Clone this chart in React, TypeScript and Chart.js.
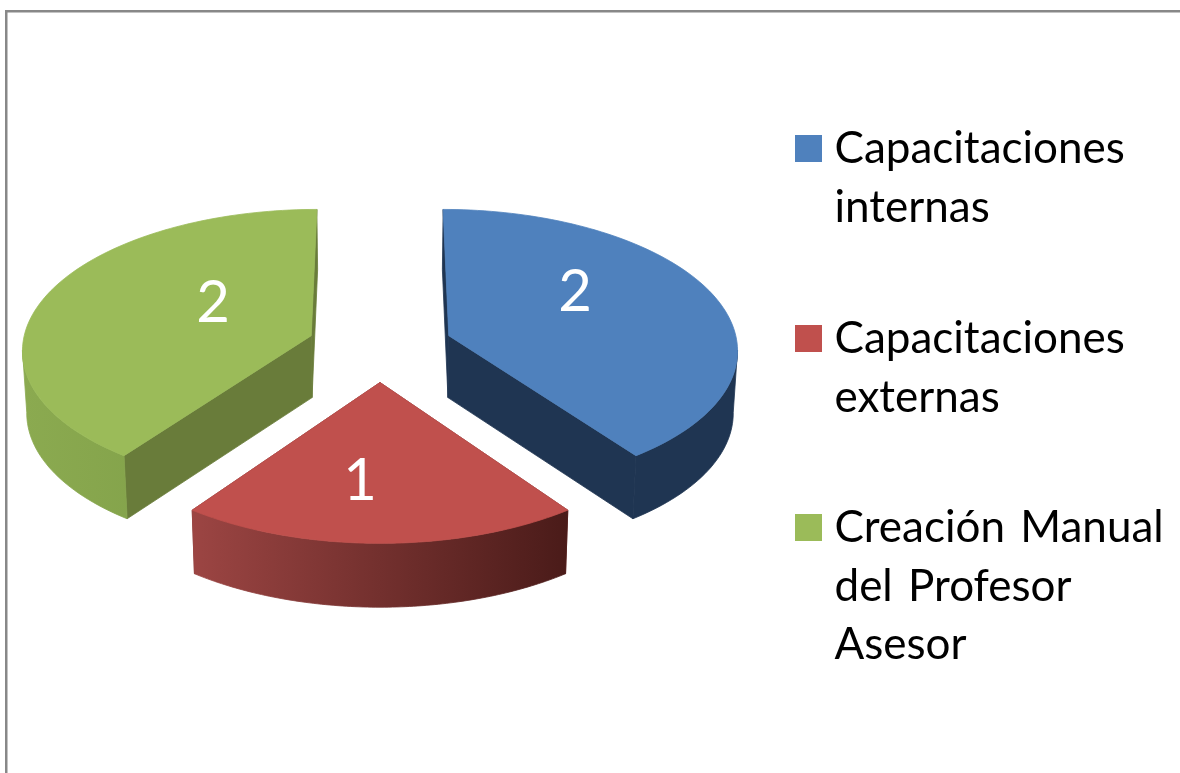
import React, { useEffect, useRef } from "react";
import { Chart, registerables } from "chart.js";

Chart.register(...registerables);

const categories = [
  ["Capacitaciones", "internas"],
  ["Capacitaciones", "externas"],
  ["Creación Manual", "del Profesor", "Asesor"],
];
const values = [2, 1, 2];
const topColors = ["#4F81BD", "#C0504D", "#9BBB59"];
const innerWallColors = ["#1F3552", "#7D3331", "#697C3A"];
const outerWallStops = [
  ["#1F3552", "#1F3552"],
  ["#9C4543", "#4A1B19"],
  ["#8BAA50", "#7A9A44"],
];

// Camera model of the tilted, exploded pie
const CX = 380, CY = 346.5, A = 289, B = 139.5, K = 0.09, EXPLODE = 0.252;

function project(a: number, r: number, mid: number, z: number) {
  const u = r * Math.cos(a) + EXPLODE * Math.cos(mid);
  const v = r * Math.sin(a) + EXPLODE * Math.sin(mid);
  const s = 1 / (1 - K * v);
  return {
    x: CX + A * u * s * (1 - 0.012 * z),
    y: CY + B * v * s + z * (62 + 1.5 * v),
  };
}

const FONT = "Lato";
const LEGEND_SIZE = 44;
const LABEL_SIZE = 58;
const legendY = [135, 325, 514];
const TEXT_X = 834.5;
const TEXT_DY = 28;
const LINE = 58.5;
const labelAt = [
  { x: 575, y: 292 },
  { x: 360, y: 481 },
  { x: 213, y: 303 },
];

const pie3d = {
  id: "pie3d",
  beforeDraw(chart: any) {
    const ctx = chart.ctx;
    ctx.save();
    ctx.fillStyle = "#ffffff";
    ctx.fillRect(0, 0, chart.width, chart.height);
    ctx.strokeStyle = "#888888";
    ctx.lineWidth = 2.5;
    ctx.beginPath();
    ctx.moveTo(6.25, chart.height);
    ctx.lineTo(6.25, 11.25);
    ctx.lineTo(chart.width, 11.25);
    ctx.stroke();
    ctx.restore();
  },
  beforeDatasetDraw(chart: any, args: any) {
    const ctx = chart.ctx;
    const arcs = chart.getDatasetMeta(args.index).data;
    ctx.save();
    ctx.lineWidth = 0.8;
    ctx.lineJoin = "round";
    arcs.forEach((el: any, i: number) => {
      const { startAngle: a0, endAngle: a1 } = el.getProps(["startAngle", "endAngle"], true);
      const mid = (a0 + a1) / 2;
      const N = 96;
      const rim = (z: number) => {
        const pts = [];
        for (let k = 0; k <= N; k++) pts.push(project(a0 + ((a1 - a0) * k) / N, 1, mid, z));
        return pts;
      };
      const top = rim(0);
      const bot = rim(1);
      const apexT = project(0, 0, mid, 0);
      const apexB = project(0, 0, mid, 1);
      const poly = (pts: { x: number; y: number }[], fill: any) => {
        ctx.beginPath();
        pts.forEach((p, k) => (k ? ctx.lineTo(p.x, p.y) : ctx.moveTo(p.x, p.y)));
        ctx.closePath();
        ctx.fillStyle = fill;
        ctx.strokeStyle = fill;
        ctx.fill();
        ctx.stroke();
      };
      // inner (radial) walls
      poly([apexT, top[0], bot[0], apexB], innerWallColors[i]);
      poly([apexT, top[N], bot[N], apexB], innerWallColors[i]);
      // outer wall: only the front-facing stretch of the rim
      let lo = N, hi = 0;
      for (let k = 0; k < N; k++) {
        if (top[k + 1].x < top[k].x) {
          lo = Math.min(lo, k);
          hi = Math.max(hi, k + 1);
        }
      }
      const xs = top.map((p) => p.x);
      const g = ctx.createLinearGradient(Math.min(...xs), 0, Math.max(...xs), 0);
      g.addColorStop(0, outerWallStops[i][0]);
      g.addColorStop(1, outerWallStops[i][1]);
      poly([...top.slice(lo, hi + 1), ...bot.slice(lo, hi + 1).reverse()], g);
      // top face
      poly([apexT, ...top], topColors[i]);
    });
    ctx.fillStyle = "#ffffff";
    ctx.font = `${LABEL_SIZE}px ${FONT}`;
    ctx.textAlign = "center";
    ctx.textBaseline = "middle";
    arcs.forEach((_: any, i: number) => {
      ctx.fillText(String(values[i]), labelAt[i].x, labelAt[i].y);
    });
    ctx.restore();
    return false;
  },
  afterDraw(chart: any) {
    const ctx = chart.ctx;
    ctx.save();
    ctx.font = `${LEGEND_SIZE}px ${FONT}`;
    ctx.wordSpacing = "4px";
    ctx.textAlign = "left";
    ctx.textBaseline = "alphabetic";
    chart.data.labels.forEach((lines: string[], i: number) => {
      ctx.fillStyle = topColors[i];
      ctx.fillRect(795, legendY[i], 27, 27);
      ctx.fillStyle = "#000000";
      lines.forEach((t, k) => ctx.fillText(t, TEXT_X, legendY[i] + TEXT_DY + k * LINE));
    });
    ctx.restore();
  },
};

export default function App() {
  const ref = useRef<HTMLCanvasElement>(null);
  useEffect(() => {
    document.body.style.margin = "0";
    const chart = new Chart(ref.current as HTMLCanvasElement, {
      type: "pie",
      data: {
        labels: categories as any,
        datasets: [{ data: values, backgroundColor: topColors, borderWidth: 0 }],
      },
      options: {
        responsive: false,
        animation: false,
        events: [],
        plugins: { legend: { display: false }, tooltip: { enabled: false } },
      },
      plugins: [pie3d as any],
    });
    return () => chart.destroy();
  }, []);
  return <canvas ref={ref} width={1180} height={773} style={{ display: "block" }} />;
}
